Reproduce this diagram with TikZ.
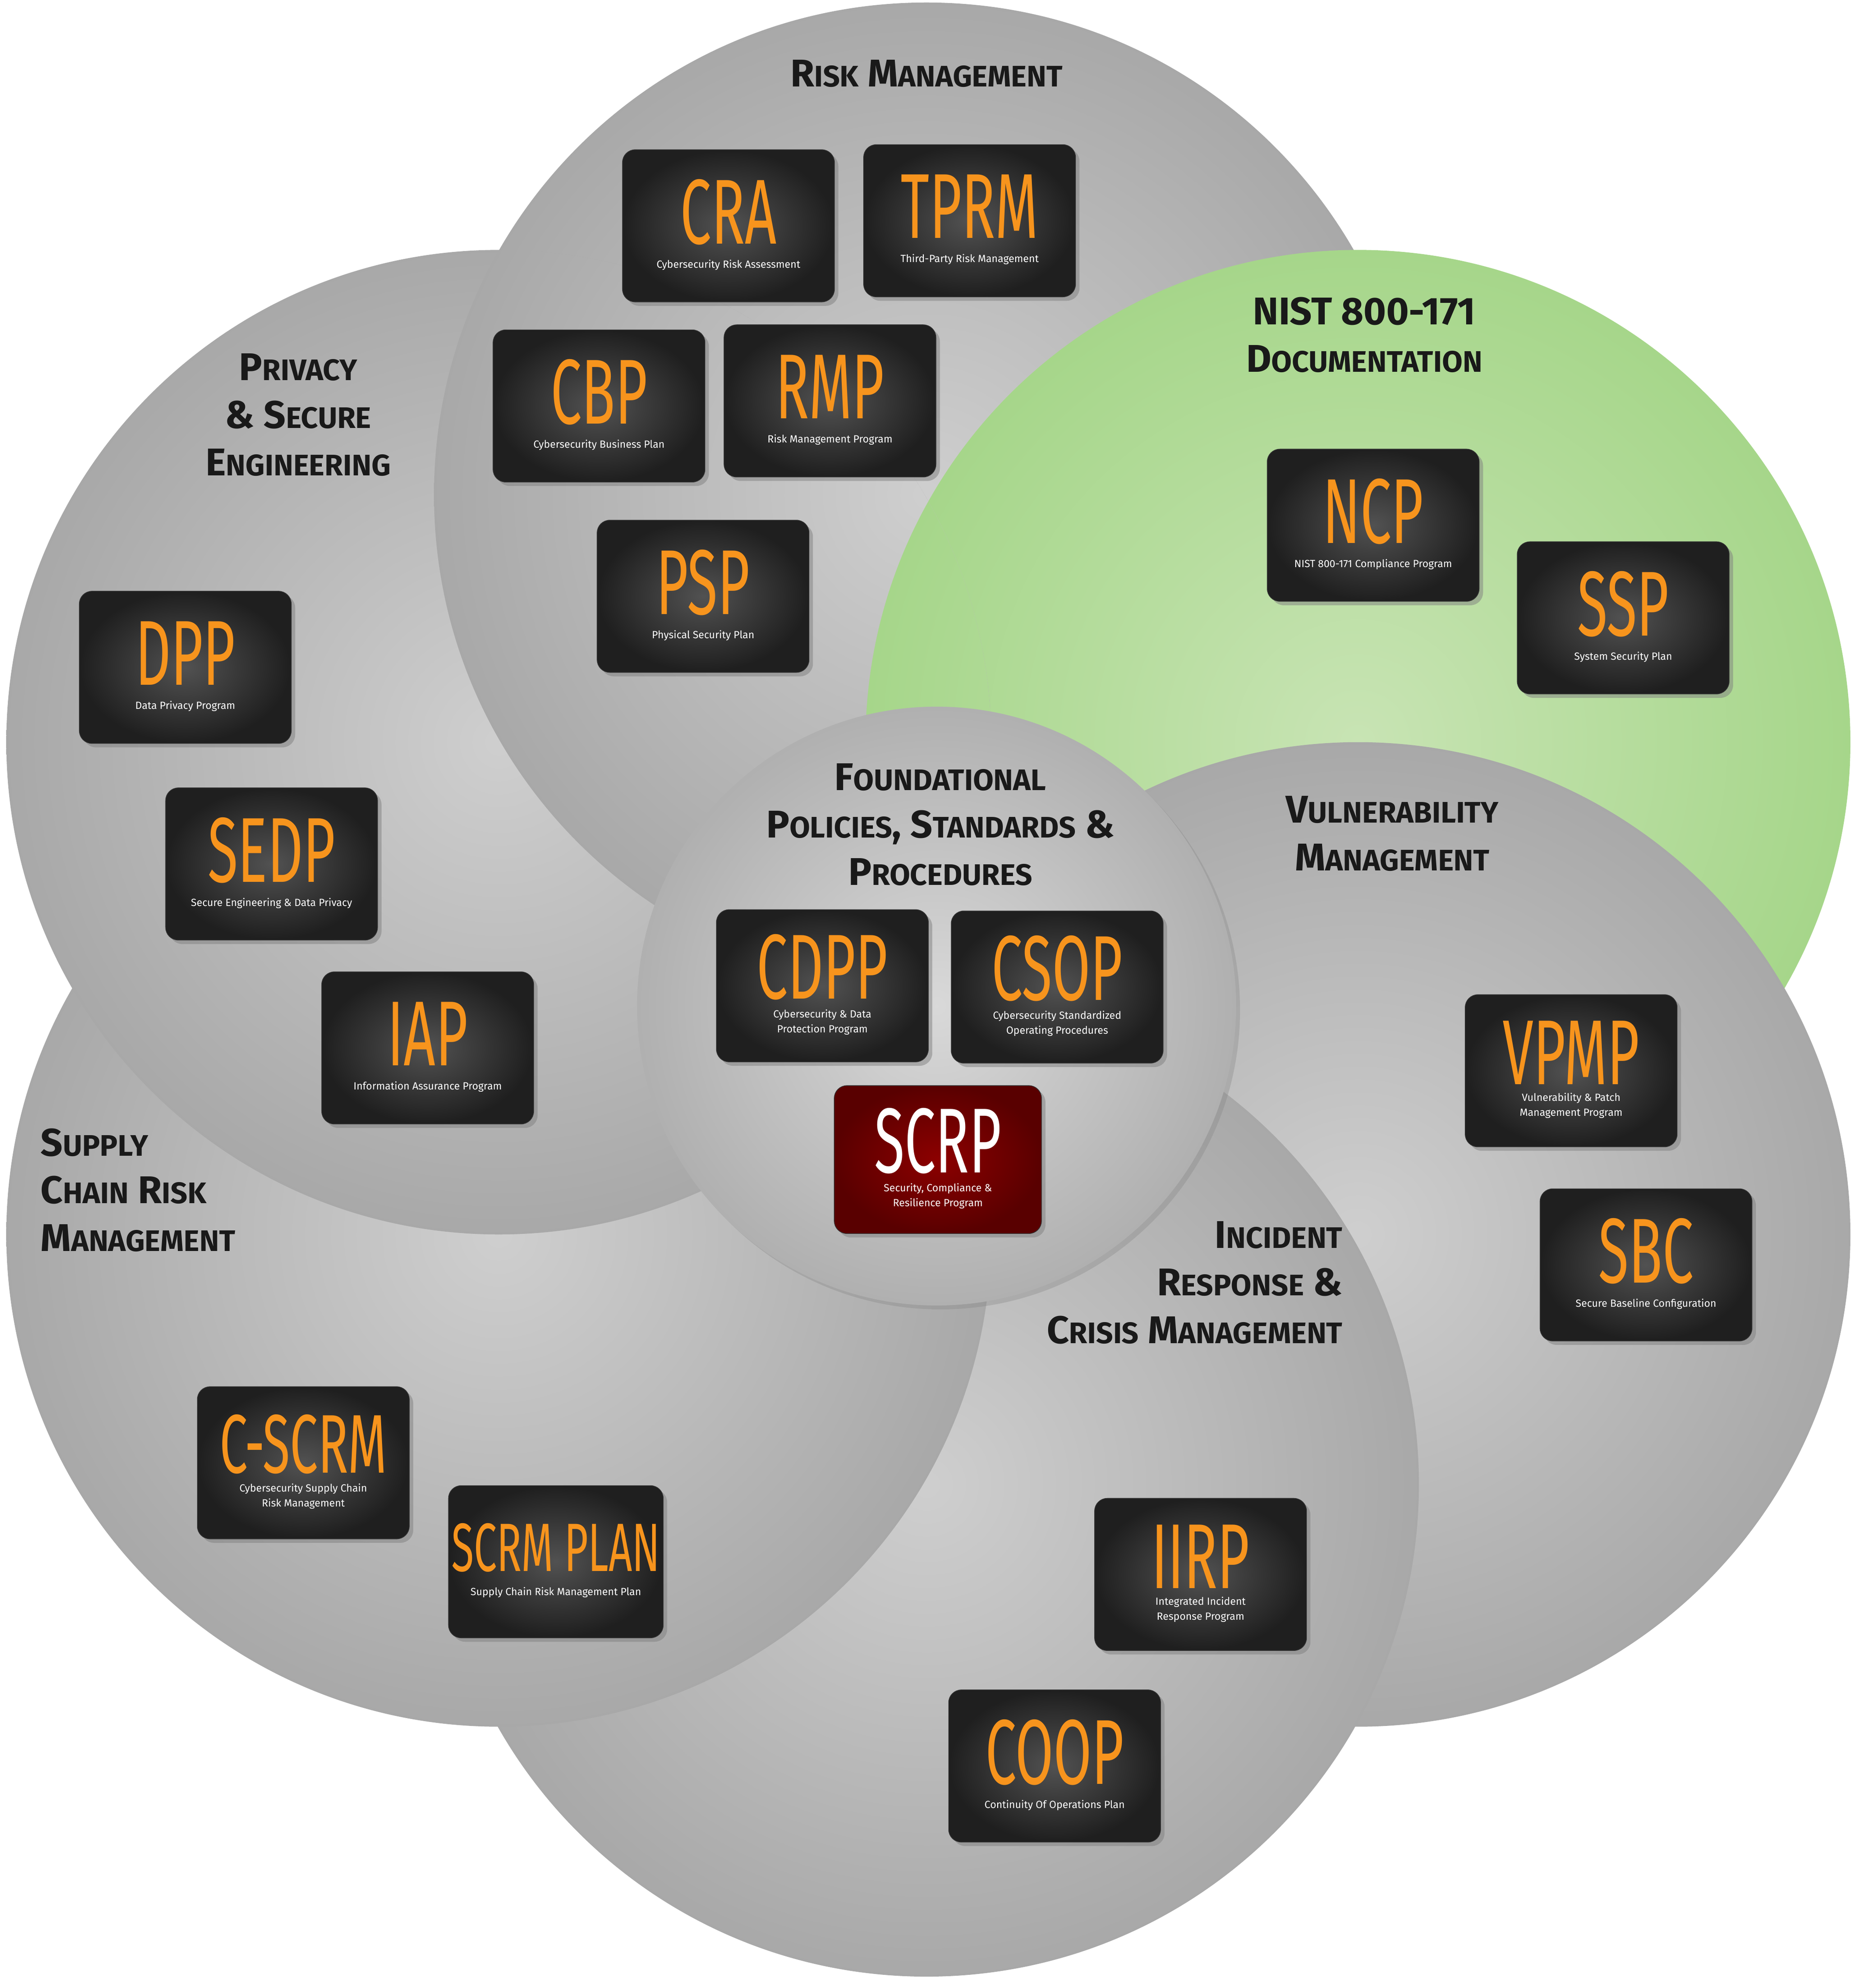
\documentclass[tikz,border=0pt]{standalone}
\usepackage{fontspec}
\setmainfont{Fira Sans}
\newfontfamily\cond[FakeStretch=0.6]{Fira Sans}
\usetikzlibrary{shadows}
\definecolor{org}{HTML}{F7941D}
\newcommand\Sc[2]{{\fontsize{26}{32}\selectfont #1}{\fontsize{20}{32}\selectfont #2}}
\newcommand\boxt[3][62]{{\cond\fontsize{#1}{#1}\selectfont\color{org}#2}\\[4pt]{\fontsize{7}{10}\selectfont\begin{tabular}{@{}c@{}}#3\end{tabular}}}
\tikzset{
  circ/.style={inner color=gray!38, outer color=gray!68},
  green/.style={inner color={rgb,255:red,200;green,228;blue,180}, outer color={rgb,255:red,166;green,214;blue,138}},
  bx/.style={rounded corners=0.3cm, minimum width=5.01cm, minimum height=3.6cm, inner color=black!68, outer color=black!88, draw=black!80, drop shadow={opacity=0.5}, align=center, inner sep=2pt, text=white},
  redbx/.style={bx, inner color=red!55!black, outer color=red!35!black, minimum width=4.9cm, minimum height=3.5cm},
  ttl/.style={align=center, font=\fontsize{26}{32}\selectfont\bfseries, text=black!90},
}
\begin{document}
\begin{tikzpicture}[x=0.03cm,y=-0.03cm]
\useasboundingbox (0,0) rectangle (1474,1567);
\def\R{11.64cm}
\shade[circ] (730,390) circle[radius=\R];
\shade[green] (1070,585) circle[radius=\R];
\shade[circ] (1070,973) circle[radius=\R];
\shade[circ] (730,1170) circle[radius=\R];
\shade[circ] (393,973) circle[radius=\R];
\shade[circ] (393,585) circle[radius=\R];
\begin{scope}
\clip (393,585) circle[radius=\R];
\shade[circ] (730,390) circle[radius=\R];
\shade[green] (1070,585) circle[radius=\R];
\end{scope}
\shade[inner color=gray!30, outer color=gray!62, drop shadow={opacity=0.3}] (738,793) circle[radius=7.08cm];

\node[ttl] (t1) at (730,58) {\Sc{R}{ISK} \Sc{M}{ANAGEMENT}};
\node[ttl] (t2) at (1075,264) {\Sc{NIST 800-171}{}\\\Sc{D}{OCUMENTATION}};
\node[ttl] (t3) at (235,327) {\Sc{P}{RIVACY}\\\Sc{\& S}{ECURE}\\\Sc{E}{NGINEERING}};
\node[ttl] (t4) at (741,650) {\Sc{F}{OUNDATIONAL}\\\Sc{P}{OLICIES}, \Sc{S}{TANDARDS} \Sc{\&}{}\\\Sc{P}{ROCEDURES}};
\node[ttl] (t5) at (1097,657) {\Sc{V}{ULNERABILITY}\\\Sc{M}{ANAGEMENT}};
\node[ttl, align=left, anchor=west] (t6) at (28,938) {\Sc{S}{UPPLY}\\\Sc{C}{HAIN} \Sc{R}{ISK}\\\Sc{M}{ANAGEMENT}};
\node[ttl, align=right, anchor=east] (t7) at (1062,1011) {\Sc{I}{NCIDENT}\\\Sc{R}{ESPONSE} \Sc{\&}{}\\\Sc{C}{RISIS} \Sc{M}{ANAGEMENT}};

\node[bx] (cra) at (574,178) {\boxt{CRA}{Cybersecurity Risk Assessment}};
\node[bx] (tprm) at (764,174) {\boxt{TPRM}{Third-Party Risk Management}};
\node[bx] (cbp) at (472,320) {\boxt{CBP}{Cybersecurity Business Plan}};
\node[bx] (rmp) at (654,316) {\boxt{RMP}{Risk Management Program}};
\node[bx] (psp) at (554,470) {\boxt{PSP}{Physical Security Plan}};
\node[bx] (ncp) at (1082,414) {\boxt{NCP}{NIST 800-171 Compliance Program}};
\node[bx] (ssp) at (1279,487) {\boxt{SSP}{System Security Plan}};
\node[bx] (dpp) at (146,526) {\boxt{DPP}{Data Privacy Program}};
\node[bx] (sedp) at (214,681) {\boxt{SEDP}{Secure Engineering \& Data Privacy}};
\node[bx] (iap) at (337,826) {\boxt{IAP}{Information Assurance Program}};
\node[bx] (cdpp) at (648,777) {\boxt{CDPP}{Cybersecurity \& Data\\Protection Program}};
\node[bx] (csop) at (833,778) {\boxt{CSOP}{Cybersecurity Standardized\\Operating Procedures}};
\node[redbx] (scrp) at (739,914) {{\cond\fontsize{62}{62}\selectfont SCRP}\\[4pt]{\fontsize{7}{10}\selectfont\begin{tabular}{@{}c@{}}Security, Compliance \&\\Resilience Program\end{tabular}}};
\node[bx] (vpmp) at (1238,844) {\boxt{VPMP}{Vulnerability \& Patch\\Management Program}};
\node[bx] (sbc) at (1297,997) {\boxt{SBC}{Secure Baseline Configuration}};
\node[bx] (cscrm) at (239,1153) {\boxt[56]{C-SCRM}{Cybersecurity Supply Chain\\Risk Management}};
\node[bx] (scrmplan) at (438,1231) {\boxt[46]{SCRM PLAN}{Supply Chain Risk Management Plan}};
\node[bx] (iirp) at (946,1241) {\boxt{IIRP}{Integrated Incident\\Response Program}};
\node[bx] (coop) at (831,1392) {\boxt{COOP}{Continuity Of Operations Plan}};
\end{tikzpicture}
\end{document}
